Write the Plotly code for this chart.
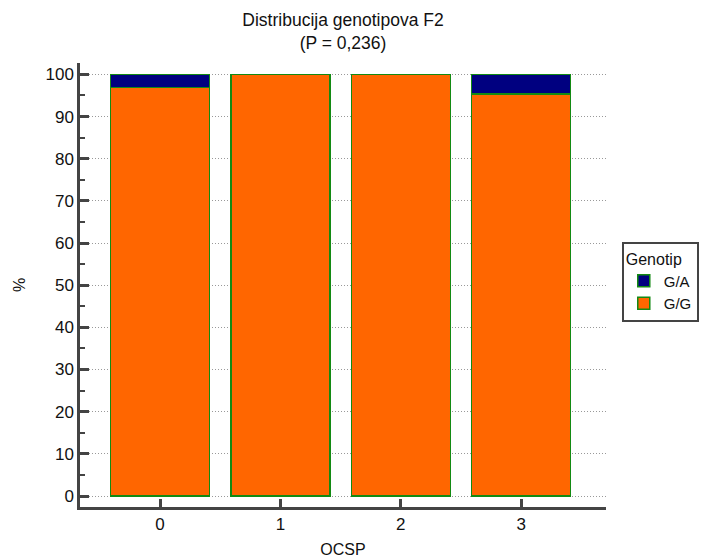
import plotly.graph_objects as go

categories = ["0", "1", "2", "3"]
x_pos = [0, 1, 2, 3]
gg_values = [96.9, 100.0, 100.0, 95.3]
ga_values = [3.1, 0.0, 0.0, 4.7]
y_ticks = [0, 10, 20, 30, 40, 50, 60, 70, 80, 90, 100]

FONT = "Liberation Sans, Arial, sans-serif"
GREEN = "#138a13"

fig = go.Figure()
fig.add_trace(go.Bar(
    x=x_pos, y=gg_values, name="G/G", width=0.823,
    marker=dict(color="#FF6600", line=dict(color=GREEN, width=1.5)),
))
fig.add_trace(go.Bar(
    x=x_pos, y=ga_values, name="G/A", width=0.823,
    marker=dict(color="#000080", line=dict(color=GREEN, width=1.5)),
))

fig.update_layout(
    width=705, height=550,
    barmode="stack",
    paper_bgcolor="white", plot_bgcolor="white",
    font=dict(family=FONT, size=17, color="#111"),
    margin=dict(l=72, r=107, t=55, b=51, autoexpand=False),
    title=dict(
        text="Distribucija genotipova F2<br>(P = 0,236)",
        x=0.5, xref="paper", xanchor="center",
        y=0.9665, yref="container", yanchor="top",
        font=dict(family=FONT, size=17.5, color="#111"),
    ),
    xaxis=dict(
        range=[-0.665, 3.705],
        tickmode="array", tickvals=x_pos, ticktext=categories,
        showline=True, linecolor="#444", linewidth=2.5,
        ticks="inside", ticklen=8, tickwidth=2.5, tickcolor="#444",
        showgrid=False, zeroline=False,
        title=dict(text="OCSP", standoff=11, font=dict(size=16)),
        tickfont=dict(size=17),
    ),
    yaxis=dict(
        range=[-2.6, 102.7],
        tickmode="array", tickvals=y_ticks,
        showline=True, linecolor="#444", linewidth=2.5,
        ticks="inside", ticklen=9, tickwidth=2.5, tickcolor="#444",
        minor=dict(ticks="inside", ticklen=5, tickwidth=1.5, tickcolor="#444",
                   dtick=5, tick0=0, showgrid=False),
        showgrid=True, gridcolor="#999999", gridwidth=1, griddash="1px,2px",
        zeroline=False,
        title=dict(text="%", standoff=16, font=dict(size=16)),
        tickfont=dict(size=17),
    ),
    legend=dict(
        title=dict(text="Genotip", font=dict(size=16)),
        traceorder="reversed",
        x=1.03, xanchor="left", y=0.5975, yanchor="top",
        bordercolor="#444", borderwidth=2,
        font=dict(size=15),
        bgcolor="white",
    ),
    showlegend=True,
)

fig.write_html("out.html")
